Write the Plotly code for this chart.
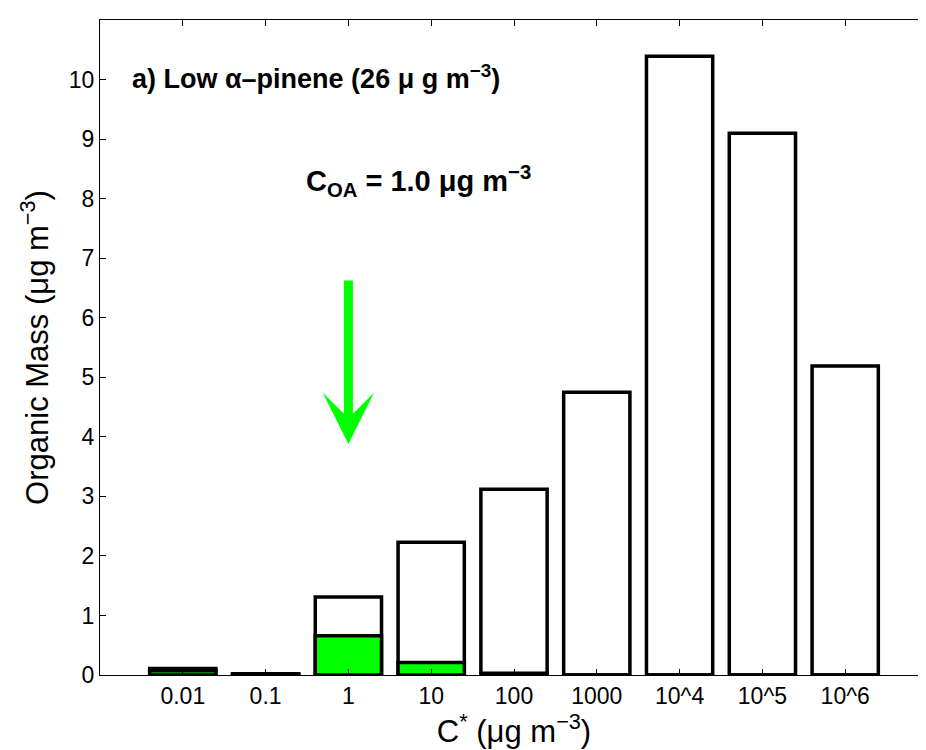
import plotly.graph_objects as go

categories = ["0.01", "0.1", "1", "10", "100", "1000", "10^4", "10^5", "10^6"]
total_mass = [0.11, 0.02, 1.31, 2.23, 3.12, 4.75, 10.39, 9.10, 5.19]
particle_mass = [0.07, 0.005, 0.66, 0.21, 0.03, 0.0, 0.0, 0.0, 0.0]
positions = list(range(1, len(categories) + 1))

FONT = "Liberation Sans, Arial, Helvetica, sans-serif"

fig = go.Figure()
fig.add_trace(go.Bar(x=positions, y=total_mass, width=0.8,
                     marker=dict(color="white", line=dict(color="black", width=3.5)),
                     showlegend=False))
fig.add_trace(go.Bar(x=positions, y=particle_mass, width=0.8,
                     marker=dict(color="#00ff00", line=dict(color="black", width=3.5)),
                     showlegend=False))

fig.update_layout(
    barmode="overlay",
    width=926, height=742,
    paper_bgcolor="white", plot_bgcolor="white",
    margin=dict(l=92, r=6, t=12, b=75),
    font=dict(family=FONT, color="black"),
)
fig.update_xaxes(range=[0, 10], tickvals=positions, ticktext=categories,
                 ticks="inside", ticklen=6, tickcolor="black",
                 showline=True, linecolor="black", linewidth=1, mirror="ticks",
                 showgrid=False, zeroline=False,
                 tickfont=dict(size=23),
                 title=dict(text="C<sup>*</sup> (μg m<sup>−3</sup>)", font=dict(size=31), standoff=3))
fig.update_yaxes(range=[0, 11], dtick=1,
                 ticks="inside", ticklen=6, tickcolor="black",
                 showline=True, linecolor="black", linewidth=1, mirror="ticks",
                 showgrid=False, zeroline=False,
                 tickfont=dict(size=23),
                 title=dict(text="Organic Mass (μg m<sup>−3</sup>)", font=dict(size=31), standoff=10))

fig.add_annotation(x=0.36, y=10.05, xref="x", yref="y", xanchor="left", yanchor="middle",
                   text="<b>a) Low α–pinene (26 μ g m<sup>−3</sup>)</b>", showarrow=False,
                   font=dict(size=27))
fig.add_annotation(x=2.46, y=8.3, xref="x", yref="y", xanchor="left", yanchor="middle",
                   text="<b>C<sub>OA</sub> = 1.0 μg m<sup>−3</sup></b>", showarrow=False,
                   font=dict(size=29))
fig.add_annotation(x=3, y=3.88, ax=3, ay=6.65, xref="x", yref="y", axref="x", ayref="y",
                   text="", showarrow=True, arrowhead=3, arrowsize=0.95, arrowwidth=9,
                   arrowcolor="#00ff00")

fig.write_html("out.html")
